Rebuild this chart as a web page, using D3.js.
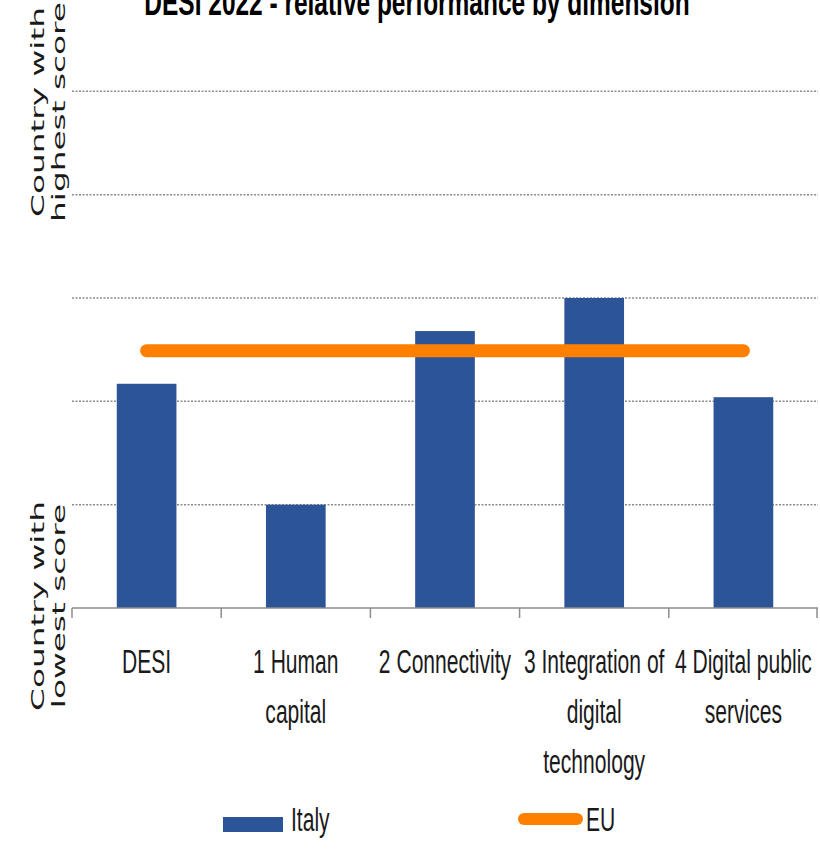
<!DOCTYPE html>
<html>
<head>
<meta charset="utf-8">
<script src="https://cdn.jsdelivr.net/npm/d3@7"></script>
<style>
  body { margin: 0; background: #fff; }
  svg { display: block; }
</style>
</head>
<body>
<svg id="chart"></svg>
<script>
// data (0 = country with lowest score, grid step = 1)
const categories = ["DESI", "1 Human capital", "2 Connectivity", "3 Integration of digital technology", "4 Digital public services"];
const categoryLines = [["DESI"], ["1 Human", "capital"], ["2 Connectivity"], ["3 Integration of", "digital", "technology"], ["4 Digital public", "services"]];
const italyValues = [2.17, 1.0, 2.68, 3.0, 2.04];
const euValues = [2.49, 2.49, 2.49, 2.49, 2.49];
const gridTicks = [1, 2, 3, 4, 5];
const title = "DESI 2022 - relative performance by dimension";

const width = 820, height = 850;
const margin = { top: -12, right: 2, bottom: 242, left: 72 };
const narrow = "'Liberation Sans Narrow', 'Liberation Sans', Arial, sans-serif";

const svg = d3.select("#chart").attr("width", width).attr("height", height);

const x = d3.scaleBand()
  .domain(categories)
  .range([margin.left, width - margin.right])
  .paddingInner(0.6).paddingOuter(0.3);
const band = d3.scaleBand().domain(categories).range([margin.left, width - margin.right]);
const y = d3.scaleLinear().domain([0, 6]).range([height - margin.bottom, margin.top]);

// title (cut off at the top like the original)
svg.append("text")
  .attr("transform", `translate(417,15) scale(0.68,1)`)
  .attr("text-anchor", "middle")
  .style("font-family", narrow)
  .style("font-weight", "bold")
  .style("font-size", "36px")
  .attr("fill", "#000")
  .text(title);

// dotted gridlines
svg.append("g")
  .selectAll("line")
  .data(gridTicks)
  .join("line")
  .attr("x1", margin.left).attr("x2", width - margin.right)
  .attr("y1", d => y(d)).attr("y2", d => y(d))
  .attr("stroke", "#8c8c8c")
  .attr("stroke-width", 1.5)
  .attr("stroke-dasharray", "2,1.5");

// bars
svg.append("g")
  .selectAll("rect")
  .data(categories)
  .join("rect")
  .attr("x", d => x(d))
  .attr("width", x.bandwidth())
  .attr("y", (d, i) => y(italyValues[i]))
  .attr("height", (d, i) => y(0) - y(italyValues[i]))
  .attr("fill", "#2c5597");

// EU line
const line = d3.line()
  .x((d, i) => band(categories[i]) + band.bandwidth() / 2)
  .y(d => y(d));
svg.append("path")
  .datum(euValues)
  .attr("d", line)
  .attr("fill", "none")
  .attr("stroke", "#ff8000")
  .attr("stroke-width", 13)
  .attr("stroke-linecap", "round");

// x axis with ticks between categories
const axisY = y(0);
svg.append("line")
  .attr("x1", margin.left).attr("x2", width - margin.right)
  .attr("y1", axisY).attr("y2", axisY)
  .attr("stroke", "#8c8c8c").attr("stroke-width", 1.5);
svg.append("g")
  .selectAll("line")
  .data(categories.concat([null]))
  .join("line")
  .attr("x1", (d, i) => d === null ? width - margin.right - 1 : band(d))
  .attr("x2", (d, i) => d === null ? width - margin.right - 1 : band(d))
  .attr("y1", axisY).attr("y2", axisY + 10)
  .attr("stroke", "#8c8c8c").attr("stroke-width", 1.5);

// category labels
const labels = svg.append("g")
  .selectAll("g")
  .data(categories)
  .join("g")
  .attr("transform", d => `translate(${band(d) + band.bandwidth() / 2},0)`);
labels.each(function (d, i) {
  d3.select(this).selectAll("text")
    .data(categoryLines[i])
    .join("text")
    .attr("transform", (t, j) => `translate(0,${673 + j * 50}) scale(0.62,1)`)
    .attr("text-anchor", "middle")
    .style("font-family", narrow)
    .style("font-size", "34px")
    .attr("fill", "#1a1a1a")
    .text(t => t);
});

// rotated y labels
const yLabels = [
  { lines: ["Country with", "highest score"], cy: 112 },
  { lines: ["Country with", "lowest score"], cy: 606 }
];
yLabels.forEach(lab => {
  lab.lines.forEach((t, j) => {
    svg.append("text")
      .attr("transform", `translate(${44 + j * 21},${lab.cy}) rotate(-90) scale(1.82,1)`)
      .attr("text-anchor", "middle")
      .style("font-family", "'DejaVu Sans', Verdana, sans-serif")
      .style("font-size", "18px")
      .attr("fill", "#1a1a1a")
      .text(t);
  });
});

// legend
const legend = svg.append("g");
legend.append("rect")
  .attr("x", 223).attr("y", 817).attr("width", 60).attr("height", 15)
  .attr("fill", "#2c5597");
legend.append("text")
  .attr("transform", "translate(291,831) scale(0.62,1)")
  .style("font-family", narrow).style("font-size", "34px").attr("fill", "#1a1a1a")
  .text("Italy");
legend.append("line")
  .attr("x1", 524).attr("x2", 577).attr("y1", 819).attr("y2", 819)
  .attr("stroke", "#ff8000").attr("stroke-width", 12).attr("stroke-linecap", "round");
legend.append("text")
  .attr("transform", "translate(586,831) scale(0.62,1)")
  .style("font-family", narrow).style("font-size", "34px").attr("fill", "#1a1a1a")
  .text("EU");
</script>
</body>
</html>
